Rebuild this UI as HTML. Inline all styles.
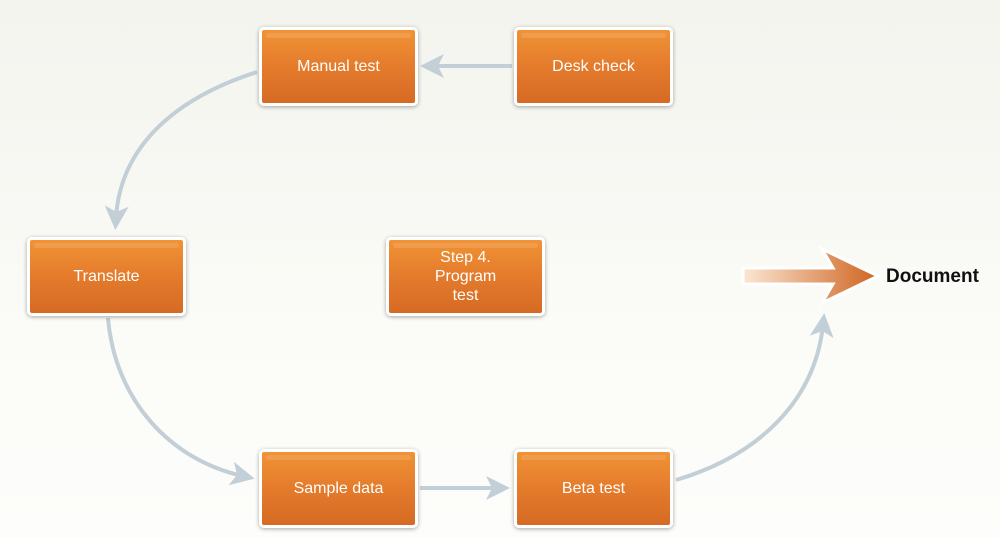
<!DOCTYPE html>
<html><head><style>
body{margin:0;width:1000px;height:538px;overflow:hidden;background:linear-gradient(#f3f4ee,#fbfbf7 60%,#fdfdfb);font-family:"Liberation Sans",sans-serif;position:relative}
.b{position:absolute;width:153px;height:73px;border:3px solid #fff;border-radius:5px;box-shadow:0 1px 4px rgba(0,0,0,.35);background:linear-gradient(#f09335,#e47b2c 50%,#d66a24);color:#fff;font-size:16px;display:flex;align-items:center;justify-content:center;text-align:center;line-height:19px;box-sizing:content-box}
.b::before{content:"";position:absolute;left:4px;right:4px;top:3px;height:5px;border-radius:3px;background:rgba(255,255,255,.12)}
</style></head><body>
<svg width="1000" height="538" style="position:absolute;left:0;top:0">
<defs>
<marker id="a" markerWidth="6" markerHeight="6" refX="3" refY="3" orient="auto" markerUnits="strokeWidth"><path d="M0,0 L6,3 L0,6 L1.5,3z" fill="#c3cfd6"/></marker>
<linearGradient id="g" x1="0" x2="1"><stop offset="0" stop-color="#fbe7d3"/><stop offset="1" stop-color="#cf6420"/></linearGradient>
</defs>
<g fill="none" stroke="#c3cfd6" stroke-width="4">
<path d="M512,66 L432,66" marker-end="url(#a)"/>
<path d="M257,72 C170,100 120,150 116,218" marker-end="url(#a)"/>
<path d="M108,318 C115,400 170,460 243,476" marker-end="url(#a)"/>
<path d="M420,488 L498,488" marker-end="url(#a)"/>
<path d="M676,480 C760,455 815,400 823,325" marker-end="url(#a)"/>
</g>
<path d="M743,268 L833,268 L822,249 L878,276 L822,303 L833,284 L743,284 Z" fill="url(#g)" stroke="#fff" stroke-width="3"/>
<text x="886" y="282" font-family="Liberation Sans" font-weight="bold" font-size="19" fill="#111">Document</text>
</svg>
<div class="b" style="left:259px;top:27px">Manual test</div>
<div class="b" style="left:514px;top:27px">Desk check</div>
<div class="b" style="left:27px;top:237px">Translate</div>
<div class="b" style="left:386px;top:237px">Step 4.<br>Program<br>test</div>
<div class="b" style="left:259px;top:449px">Sample data</div>
<div class="b" style="left:514px;top:449px">Beta test</div>
</body></html>
